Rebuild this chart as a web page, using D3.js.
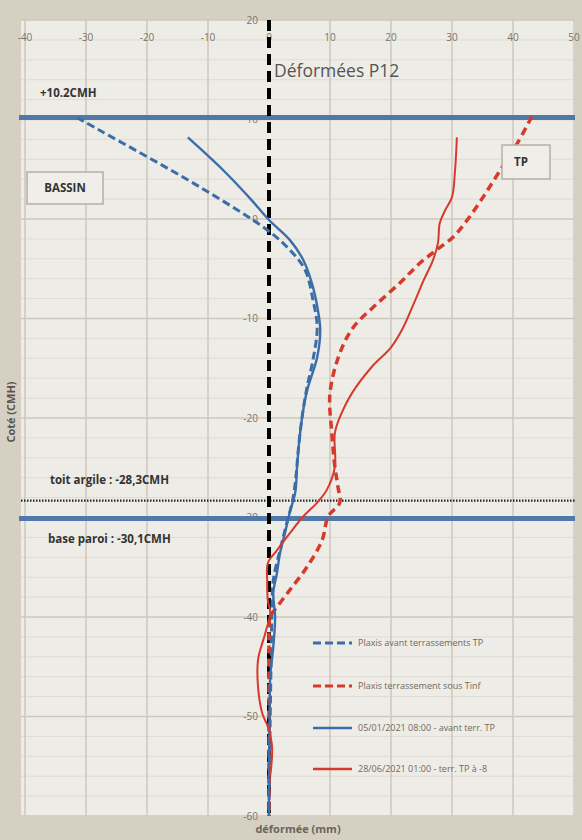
<!DOCTYPE html>
<html>
<head>
<meta charset="utf-8">
<script src="https://cdn.jsdelivr.net/npm/d3@7"></script>
<style>
  html, body { margin: 0; padding: 0; background: #d6d0c3; }
  svg { display: block; font-family: "Open Sans", "DejaVu Sans", sans-serif; }
</style>
</head>
<body>
<div id="chart"></div>
<script>
// Déformées P12 - inclinometer profiles
const xTicks = [-40, -30, -20, -10, 0, 10, 20, 30, 40, 50];
const yTicks = [20, 10, 0, -10, -20, -30, -40, -50, -60];

// cote (CMH) / deformation (mm) for each series
const plaxisAvantCote = [10.2, 8.9, 3.2, -1.1, -3.1, -5.1, -8.1, -10.9, -14.2, -17, -20, -23.2, -26, -28.2, -30.6, -33.3, -36.3, -39, -42, -46, -50, -55, -60];
const plaxisAvantDef  = [-31.5, -27.7, -11.3, -0.3, 3.4, 5.9, 7.2, 7.9, 7.2, 6.2, 5.4, 4.8, 4.4, 3.9, 2.9, 1.8, 0.7, 0.5, 0.4, 0.3, 0.2, 0.1, 0];

const plaxisTinfCote = [10.3, 7.6, 4.9, 2.2, -0.1, -1.8, -3.1, -4.4, -6.4, -8.8, -10.9, -13.5, -17.5, -21.5, -24.9, -26.9, -28.5, -29.9, -32.3, -35, -37.3, -39, -40, -43, -48, -55, -60];
const plaxisTinfDef  = [43.1, 40.7, 37.9, 35.1, 32.5, 30.2, 27.5, 24.8, 21.5, 17.2, 13.8, 11.6, 10, 10.3, 10.8, 11.3, 11.6, 9.7, 8.7, 6.2, 3.4, 1.3, 0.2, 0, 0, 0, 0];

const mesureJanCote = [8.2, 4.9, 2.0, -0.1, -2.1, -4.1, -6.4, -9.1, -11.2, -13.9, -16.9, -18.2, -21.5, -24.9, -27.5, -29.5, -31.6, -33.6, -35.6, -37.6, -40, -43, -46, -50, -55, -60];
const mesureJanDef  = [-13.3, -7.5, -3.0, 0, 3.4, 5.6, 7.0, 8.0, 8.4, 7.9, 6.4, 5.9, 5.1, 4.6, 4.3, 3.4, 2.6, 1.8, 1.3, 0.7, 1.0, 0.7, 0.2, 0.1, 0, 0];

const mesureJuinCote = [8.2, 4.9, 2.2, 0.9, -0.4, -2.4, -4.1, -6.1, -8.4, -10.9, -12.9, -14.9, -17.5, -19.5, -21.5, -24.9, -27.2, -28.5, -29.9, -31.6, -33.3, -34.6, -36.3, -38.3, -39.6, -41.6, -44.3, -47, -49.7, -51, -53, -56];
const mesureJuinDef  = [30.8, 30.5, 30, 28.9, 28, 27.7, 26.9, 25.4, 23.8, 22, 20, 16.8, 13.6, 11.9, 10.8, 10.8, 9.5, 7.9, 5.6, 3.4, 1.3, -0.2, -0.3, -0.2, 0.2, -0.6, -1.8, -1.8, -1.1, -0.2, 0.5, 0.2];

// reference levels
const levelCotes = [10.2, -28.3, -30.1];

const legendLabels = [
  "Plaxis avant terrassements TP",
  "Plaxis terrassement sous Tinf",
  "05/01/2021  08:00 - avant terr. TP",
  "28/06/2021 01:00 - terr. TP à -8"
];

const W = 582, H = 840;
const blue = "#3b6ea8", red = "#d63a2c";

const svg = d3.select("#chart").append("svg")
  .attr("width", W).attr("height", H);

const x = d3.scaleLinear().domain([-40, 50]).range([25, 574]);
const y = d3.scaleLinear().domain([20, -60]).range([20, 816]);

// plot area
svg.append("rect")
  .attr("x", 21).attr("y", 20)
  .attr("width", 554).attr("height", 797)
  .attr("fill", "#eeece6");

// minor horizontal grid
svg.append("g").selectAll("line")
  .data(d3.range(20, -61, -2).filter(d => d % 10 !== 0))
  .join("line")
  .attr("x1", 21).attr("x2", 575)
  .attr("y1", d => y(d)).attr("y2", d => y(d))
  .attr("stroke", "#e0dbd2").attr("stroke-width", 1);

// major grid
svg.append("g").selectAll("line")
  .data(yTicks)
  .join("line")
  .attr("x1", 21).attr("x2", 575)
  .attr("y1", d => y(d)).attr("y2", d => y(d))
  .attr("stroke", "#cfc7bc").attr("stroke-width", 1.5);

svg.append("g").selectAll("line")
  .data(xTicks.filter(d => d !== 0))
  .join("line")
  .attr("x1", d => x(d)).attr("x2", d => x(d))
  .attr("y1", 20).attr("y2", 817)
  .attr("stroke", "#cfc7bc").attr("stroke-width", 1.5);

// tick labels
svg.append("g")
  .style("font-size", "10px").attr("fill", "#7a746c")
  .selectAll("text")
  .data(xTicks)
  .join("text")
  .attr("x", d => x(d)).attr("y", 41)
  .attr("text-anchor", "middle")
  .text(d => d);

svg.append("g")
  .style("font-size", "10px").attr("fill", "#7a746c")
  .selectAll("text")
  .data(yTicks)
  .join("text")
  .attr("x", x(0) - 11).attr("y", d => y(d))
  .attr("dy", "0.35em")
  .attr("text-anchor", "end")
  .text(d => d);

// reference levels
svg.append("line")
  .attr("x1", 21).attr("x2", 575)
  .attr("y1", y(levelCotes[1])).attr("y2", y(levelCotes[1]))
  .attr("stroke", "#222").attr("stroke-width", 2.2)
  .attr("stroke-dasharray", "1.5,1.5");

svg.append("g").selectAll("line")
  .data([levelCotes[0], levelCotes[2]])
  .join("line")
  .attr("x1", 19).attr("x2", 575)
  .attr("y1", d => y(d)).attr("y2", d => y(d))
  .attr("stroke", "#5079a8").attr("stroke-width", 5);

// zero line
svg.append("line")
  .attr("x1", x(0)).attr("x2", x(0))
  .attr("y1", 20).attr("y2", 817)
  .attr("stroke", "#000").attr("stroke-width", 4)
  .attr("stroke-dasharray", "11,6");

// series
const series = [
  { cote: plaxisAvantCote, def: plaxisAvantDef, color: blue, dash: "8,4", w: 3 },
  { cote: plaxisTinfCote, def: plaxisTinfDef, color: red, dash: "8,5", w: 3.5 },
  { cote: mesureJanCote, def: mesureJanDef, color: blue, dash: null, w: 2.4 },
  { cote: mesureJuinCote, def: mesureJuinDef, color: red, dash: null, w: 2 }
];

const line = d3.line()
  .x(d => x(d[0]))
  .y(d => y(d[1]))
  .curve(d3.curveCatmullRom.alpha(0.5));

svg.append("g").attr("fill", "none")
  .selectAll("path")
  .data(series)
  .join("path")
  .attr("d", s => line(s.def.map((v, i) => [v, s.cote[i]])))
  .attr("stroke", s => s.color)
  .attr("stroke-width", s => s.w)
  .attr("stroke-dasharray", s => s.dash);

// title
svg.append("text")
  .attr("x", 274).attr("y", 77)
  .style("font-size", "17.5px").attr("fill", "#555")
  .text("Déformées P12");

// annotations
const bold = g => g.style("font-size", "11.5px").style("font-weight", "bold").attr("fill", "#333");

svg.append("text").attr("x", 40).attr("y", 97).call(bold).text("+10.2CMH");
svg.append("text").attr("x", 50).attr("y", 484).call(bold).text("toit argile : -28,3CMH");
svg.append("text").attr("x", 48).attr("y", 543).call(bold).text("base paroi : -30,1CMH");

svg.append("rect")
  .attr("x", 27).attr("y", 172).attr("width", 76).attr("height", 32)
  .attr("fill", "#efeee9").attr("stroke", "#b6aea6").attr("stroke-width", 1.5);
svg.append("text").attr("x", 65).attr("y", 192).attr("text-anchor", "middle").call(bold).text("BASSIN");

svg.append("rect")
  .attr("x", 502).attr("y", 145).attr("width", 48).attr("height", 34)
  .attr("fill", "#efeee9").attr("stroke", "#b6aea6").attr("stroke-width", 1.5);
svg.append("text").attr("x", 521).attr("y", 166).attr("text-anchor", "middle").call(bold).text("TP");

// legend
const legend = svg.append("g").selectAll("g")
  .data(series)
  .join("g")
  .attr("transform", (d, i) => `translate(313,${[643, 686, 728, 769][i]})`);

legend.append("line")
  .attr("x1", 0).attr("x2", 39)
  .attr("stroke", s => s.color)
  .attr("stroke-width", s => s.dash ? 3 : 2.4)
  .attr("stroke-dasharray", s => s.dash ? "8,4" : null);

legend.append("text")
  .attr("x", 45).attr("dy", "0.35em")
  .style("font-size", "9px").attr("fill", "#6e6860")
  .text((d, i) => legendLabels[i]);

// axis titles
svg.append("text")
  .attr("transform", "translate(15,412) rotate(-90)")
  .attr("text-anchor", "middle")
  .style("font-size", "11px").style("font-weight", "bold").attr("fill", "#5a544c")
  .text("Coté (CMH)");

svg.append("text")
  .attr("x", 298).attr("y", 833)
  .attr("text-anchor", "middle")
  .style("font-size", "11px").style("font-weight", "bold").attr("fill", "#6a645c")
  .text("déformée (mm)");
</script>
</body>
</html>
